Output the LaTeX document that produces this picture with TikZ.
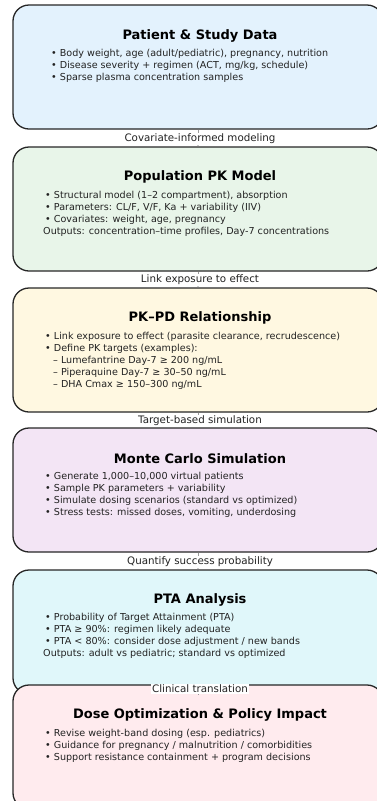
\documentclass[tikz,border=0pt]{standalone}
\usepackage{fontspec}
\setmainfont{DejaVu Sans}
\usetikzlibrary{positioning}
\def\boxwidth{370pt}
\def\boxheight{124pt}
\def\subindent{\rule{10pt}{0pt}}
\def\bulindent{\rule{2pt}{0pt}}

\definecolor{dataBlue}{HTML}{E3F2FD}
\definecolor{modelGreen}{HTML}{E8F5E9}
\definecolor{pkpdYellow}{HTML}{FFF8E1}
\definecolor{simPurple}{HTML}{F3E5F5}
\definecolor{ptaCyan}{HTML}{E0F7FA}
\definecolor{dosePink}{HTML}{FFEBEE}
\definecolor{inkGray}{HTML}{222222}

\begin{document}
\begin{tikzpicture}[x=1pt,y=-1pt,->,>=stealth,draw=black!85]
    \tikzstyle{stage}=[draw=black!85, line width=1.3pt, rounded corners=16pt, minimum width=\boxwidth, minimum height=\boxheight, inner sep=0pt]
    \tikzstyle{stage title}=[font=\fontsize{13}{15}\selectfont\bfseries, inner sep=0pt, text=black]
    \tikzstyle{stage body}=[font=\fontsize{9.6}{12}\selectfont, align=left, inner sep=0pt, anchor=north west, text=inkGray]
    \tikzstyle{link label}=[fill=white, font=\fontsize{10.3}{11}\selectfont, inner sep=1.5pt, text=inkGray]

    \useasboundingbox (0,0) rectangle (377,801);
    \clip (0,0) rectangle (377,801);

    % Draw the stage boxes
    \node[stage, fill=dataBlue] (S-1) at (198,67) {};
    \node[stage, fill=modelGreen] (S-2) at (198,209) {};
    \node[stage, fill=pkpdYellow] (S-3) at (198,350) {};
    \node[stage, fill=simPurple] (S-4) at (198,490) {};
    \node[stage, fill=ptaCyan] (S-5) at (198,632) {};
    \node[stage, fill=dosePink] (S-6) at (198,747) {};

    % Titles
    \node[stage title] (T-1) at (200,36) {Patient \& Study Data};
    \node[stage title] (T-2) at (200,177) {Population PK Model};
    \node[stage title] (T-3) at (200,318) {PK–PD Relationship};
    \node[stage title] (T-4) at (200,459) {Monte Carlo Simulation};
    \node[stage title] (T-5) at (200,600) {PTA Analysis};
    \node[stage title] (T-6) at (200,715) {Dose Optimization \& Policy Impact};

    % Bullet lists
    \node[stage body] (B-1) at (51,49) {• Body weight, age (adult/pediatric), pregnancy, nutrition\\
        • Disease severity + regimen (ACT, mg/kg, schedule)\\
        • Sparse plasma concentration samples};
    \node[stage body] (B-2) at (43,191) {\bulindent• Structural model (1–2 compartment), absorption\\
        \bulindent• Parameters: CL/F, V/F, Ka + variability (IIV)\\
        \bulindent• Covariates: weight, age, pregnancy\\
        Outputs: concentration–time profiles, Day-7 concentrations};
    \node[stage body] (B-3) at (43,332) {\bulindent• Link exposure to effect (parasite clearance, recrudescence)\\
        \bulindent• Define PK targets (examples):\\
        \subindent– Lumefantrine Day-7 ≥ 200 ng/mL\\
        \subindent– Piperaquine Day-7 ≥ 30–50 ng/mL\\
        \subindent– DHA Cmax ≥ 150–300 ng/mL};
    \node[stage body] (B-4) at (43,472) {\bulindent• Generate 1,000–10,000 virtual patients\\
        \bulindent• Sample PK parameters + variability\\
        \bulindent• Simulate dosing scenarios (standard vs optimized)\\
        \bulindent• Stress tests: missed doses, vomiting, underdosing};
    \node[stage body] (B-5) at (43,613) {\bulindent• Probability of Target Attainment (PTA)\\
        \bulindent• PTA ≥ 90\%: regimen likely adequate\\
        \bulindent• PTA < 80\%: consider dose adjustment / new bands\\
        Outputs: adult vs pediatric; standard vs optimized};
    \node[stage body] (B-6) at (43,729) {\bulindent• Revise weight-band dosing (esp. pediatrics)\\
        \bulindent• Guidance for pregnancy / malnutrition / comorbidities\\
        \bulindent• Support resistance containment + program decisions};

    % Connect consecutive stages
    \foreach \source/\dest in {1/2,2/3,3/4,4/5,5/6}
        \draw[line width=0.5pt, draw=black!40] (S-\source) -- (S-\dest);

    % Annotate the links
    \node[link label] (L-1) at (200,139) {Covariate-informed modeling};
    \node[link label] (L-2) at (200,280) {Link exposure to effect};
    \node[link label] (L-3) at (200,421) {Target-based simulation};
    \node[link label] (L-4) at (200,562) {Quantify success probability};
    \node[link label] (L-5) at (200,689) {Clinical translation};
\end{tikzpicture}
\end{document}
